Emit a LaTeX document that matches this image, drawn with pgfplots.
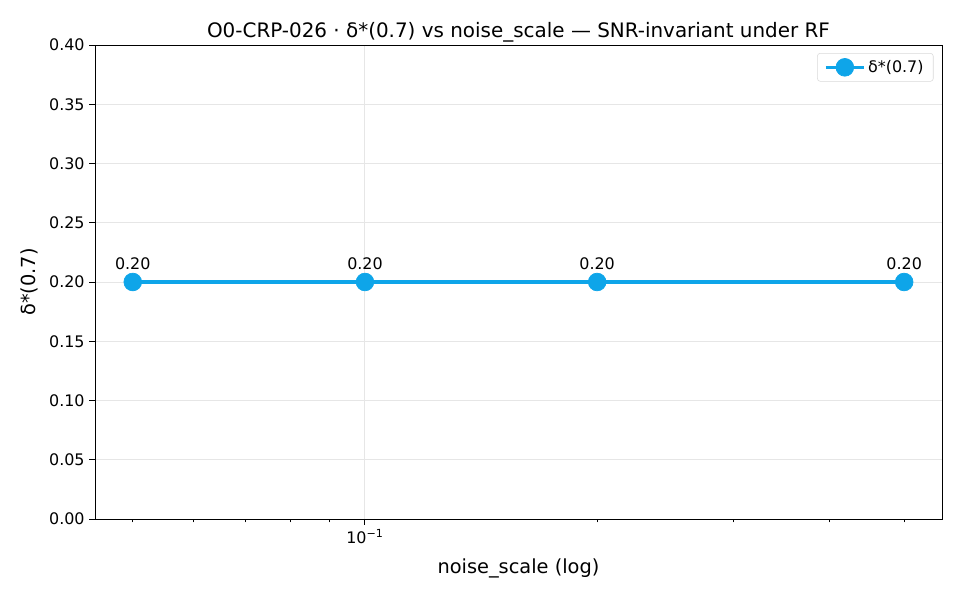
\documentclass[border=0pt]{standalone}
\usepackage{fontspec}
\setmainfont{DejaVu Sans}
\usepackage{pgfplots}
\pgfplotsset{compat=1.18}
\definecolor{lc}{HTML}{0EA5E9}
\definecolor{gridc}{HTML}{E6E6E6}
\begin{document}
\begin{tikzpicture}
\useasboundingbox (0,0) rectangle (9.6in,6in);
\begin{axis}[
  at={(0.95in,0.81in)}, anchor=south west,
  scale only axis, width=8.47in, height=4.74in,
  xmode=log, xmin=0.04467, xmax=0.5598,
  ymin=0, ymax=0.40,
  xtick={0.1}, xticklabels={10\textsuperscript{−1}},
  minor xtick={0.05,0.06,0.07,0.08,0.09,0.2,0.3,0.4,0.5},
  ytick={0,0.05,...,0.40},
  yticklabel style={/pgf/number format/.cd,fixed,fixed zerofill,precision=2},
  /pgf/number format/assume math mode=true,
  tick label style={font=\fontsize{11.5}{13}\selectfont},
  tick align=outside, tick pos=left,
  major tick length=4pt, minor tick length=2.4pt,
  every tick/.style={black, line width=0.7pt},
  grid=major, major grid style={gridc, line width=0.7pt},
  axis line style={line width=0.7pt},
  title={O0-CRP-026 · δ*(0.7) vs noise\_scale — SNR-invariant under RF},
  title style={font=\fontsize{14.4}{16}\selectfont, yshift=-7.5pt},
  xlabel={noise\_scale (log)},
  ylabel={δ*(0.7)},
  label style={font=\fontsize{14}{16}\selectfont},
  xlabel style={yshift=-4pt},
  ylabel style={yshift=1pt},
  legend style={at={(0.99,0.983)}, anchor=north east, draw=gray!30, rounded corners=2pt, font=\fontsize{11.5}{13}\selectfont, inner xsep=5pt, inner ysep=3pt},
  legend cell align=left,
  legend image code/.code={\draw[#1, mark repeat=2, mark phase=2] plot coordinates {(0in,0in) (0.19in,0in) (0.38in,0in)};},
]
\addplot[color=lc, line width=2.2pt, mark=*, mark size=6.4pt, mark options={fill=lc, draw=lc, line width=0.5pt},
  nodes near coords={\pgfmathprintnumber[fixed,fixed zerofill,precision=2]{\pgfplotspointmeta}},
  point meta=y,
  every node near coord/.style={anchor=center, yshift=0.18in, black, font=\fontsize{11.5}{13}\selectfont}]
  coordinates {(0.05,0.20) (0.1,0.20) (0.2,0.20) (0.5,0.20)};
\addlegendentry{δ*(0.7)}
\end{axis}
\end{tikzpicture}
\end{document}
